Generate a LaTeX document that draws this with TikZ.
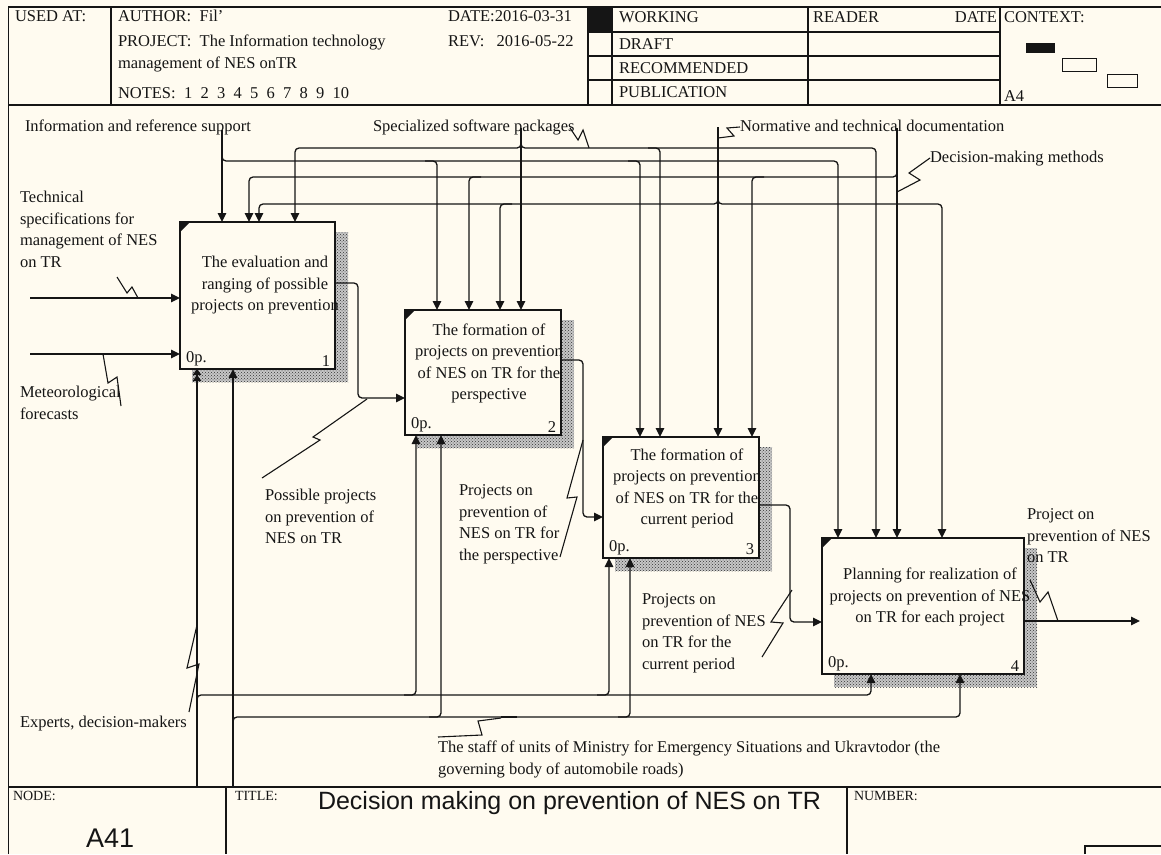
\documentclass[tikz,border=0pt]{standalone}
\usepackage{fontspec}
\setmainfont{Liberation Serif}
\newfontfamily\arialf{Liberation Sans}
\usetikzlibrary{arrows.meta,patterns,calc}
\definecolor{bgc}{HTML}{FFFBF0}
\definecolor{ink}{HTML}{151515}
\pgfdeclarelayer{bglayer}
\pgfdeclarelayer{shlayer}
\pgfsetlayers{bglayer,shlayer,main}
\begin{document}
\begin{tikzpicture}[x=1pt,y=-1pt,
  every node/.style={inner sep=0pt,outer sep=0pt},
  txt/.style={font=\fontsize{16.5}{21.5}\selectfont, text=ink},
  lbl/.style={txt, anchor=north west, align=left},
  btxt/.style={txt, align=center},
  small/.style={font=\fontsize{14}{16}\selectfont, text=ink, anchor=north west},
  frame/.style={line width=1.4pt, draw=ink},
  box/.style={draw=ink, line width=2.8pt, fill=bgc, rectangle},
  conn/.style={line width=1.3pt, draw=ink, rounded corners=4pt},
  arr/.style={conn, -{Triangle[length=9pt,width=8.5pt]}},
  arrdbl/.style={conn, -{Triangle[length=6pt,width=8.5pt]Triangle[length=6pt,width=8.5pt]}},
  squig/.style={line width=1.1pt, draw=ink},
  shadow/.style={pattern=crosshatch dots, pattern color=black!80},
]
\useasboundingbox (0,0) rectangle (1161,854);
\begin{pgfonlayer}{bglayer}
\fill[bgc] (0,0) rectangle (1161,854);
\end{pgfonlayer}

% ---------- frame ----------
\draw[frame] (8.5,854) -- (8.5,7) -- (1161,7);
\draw[frame] (8.5,105) -- (1161,105);
\foreach \xx in {111,588,612,808,1000} \draw[frame] (\xx,7) -- (\xx,105);
\foreach \yy in {32,56,80} \draw[frame] (588,\yy) -- (1000,\yy);
\fill[ink] (588,7) rectangle (612,32);
\fill[ink] (1026,43) rectangle (1055,53);
\draw[ink,line width=1pt] (1062,58) rectangle (1096,71);
\draw[ink,line width=1pt] (1107,74) rectangle (1137,87);
\draw[frame] (8.5,787) -- (1161,787);
\draw[frame] (226,787) -- (226,854);
\draw[frame] (847,787) -- (847,854);
\draw[frame] (1085,854) -- (1085,846) -- (1161,846);

% ---------- header texts ----------
\node[lbl] (hUsed) at (15,6.6) {\strut USED AT:};
\node[lbl] (hAuth) at (118,6.6) {\strut AUTHOR:\ \ Fil'};
\node[lbl] (hProj) at (118,31.6) {\strut PROJECT:\ \ The Information technology\\management of NES onTR};
\node[lbl] (hNotes) at (118,83.6) {\strut NOTES:\ \ 1\ \ 2\ \ 3\ \ 4\ \ 5\ \ 6\ \ 7\ \ 8\ \ 9\ \ 10};
\node[lbl] (hDate) at (448,6.6) {\strut DATE:2016-03-31};
\node[lbl] (hRev) at (448,31.6) {\strut REV:\ \ \ 2016-05-22};
\node[lbl] (hWork) at (619,7.6) {\strut WORKING};
\node[lbl] (hDraft) at (619,34.6) {\strut DRAFT};
\node[lbl] (hRec) at (619,58.6) {\strut RECOMMENDED};
\node[lbl] (hPub) at (619,82.6) {\strut PUBLICATION};
\node[lbl] (hReader) at (813,7.6) {\strut READER};
\node[txt, anchor=north east] (hDate2) at (997,7.6) {\strut DATE};
\node[lbl] (hCtx) at (1004,7.6) {\strut CONTEXT:};
\node[lbl] (hA4) at (1004,86.6) {\strut A4};

% ---------- footer texts ----------
\node[small] (fNode) at (13,789) {\strut NODE:};
\node[small] (fTitle) at (235,789) {\strut TITLE:};
\node[small] (fNum) at (854,789) {\strut NUMBER:};
\node[font=\arialf\fontsize{25}{29}\selectfont, text=ink, anchor=west] (fTitleT) at (318,803) {Decision making on prevention of NES on TR};
\node[font=\arialf\fontsize{27}{31}\selectfont, text=ink, anchor=west] (fA41) at (86,838) {A41};

% ---------- boxes ----------
\node[box, minimum width=155pt, minimum height=147pt] (b1) at (257.5,295.5) {};
\node[box, minimum width=156pt, minimum height=125pt] (b2) at (483,372.5) {};
\node[box, minimum width=156pt, minimum height=121pt] (b3) at (681,497.5) {};
\node[box, minimum width=202pt, minimum height=136pt] (b4) at (923,606) {};
\begin{pgfonlayer}{shlayer}
\foreach \b in {b1,b2,b3,b4}{
  \fill[black!22] ($(\b.south west)+(12,13)$) rectangle ($(\b.north east)+(13,10)$);
  \fill[shadow] ($(\b.south west)+(12,13)$) rectangle ($(\b.north east)+(13,10)$);
}
\end{pgfonlayer}
\foreach \b in {b1,b2,b3,b4}
  \fill[ink] (\b.north west) -- ++(10,0) -- ++(-10,10) -- cycle;

\node[btxt] (t1) at (265,285) {\strut The evaluation and\\ranging of possible\\projects on prevention\strut};
\node[btxt] (t2) at (489,363) {\strut The formation of\\projects on prevention\\of NES on TR for the\\perspective\strut};
\node[btxt] (t3) at (687,488) {\strut The formation of\\projects on prevention\\of NES on TR for the\\current period\strut};
\node[btxt] (t4) at (930,597) {\strut Planning for realization of\\projects on prevention of NES\\on TR for each project\strut};

\foreach \b/\n in {b1/1,b2/2,b3/3,b4/4}{
  \node[txt, anchor=south west] at ($(\b.south west)+(6,-3)$) {0p.};
  \node[txt, anchor=south east] at ($(\b.south east)+(-5,-3)$) {\n};
}

% ---------- labels ----------
\node[lbl] (lInfo) at (25,116.6) {\strut Information and reference support};
\node[lbl] (lSpec) at (373,116.6) {\strut Specialized software packages};
\node[lbl] (lNorm) at (740,116.6) {\strut Normative and technical documentation};
\node[lbl] (lDec) at (930,147.6) {\strut Decision-making methods};
\node[lbl] (lTech) at (20,187.6) {\strut Technical\\specifications for\\management of NES\\on TR};
\node[lbl] (lMet) at (20,382.6) {\strut Meteorological\\forecasts};
\node[lbl] (lPos) at (265,485.6) {\strut Possible projects\\on prevention of\\NES on TR};
\node[lbl] (lPer) at (459,480.6) {\strut Projects on\\prevention of\\NES on TR for\\the perspective};
\node[lbl] (lCur) at (642,589.6) {\strut Projects on\\prevention of NES\\on TR for the\\current period};
\node[lbl] (lOut) at (1027,504.6) {\strut Project on\\prevention of NES\\on TR};
\node[lbl] (lExp) at (20,712.6) {\strut Experts, decision-makers};
\node[lbl] (lStaff) at (438,737.6) {\strut The staff of units of Ministry for Emergency Situations and Ukravtodor (the\\governing body of automobile roads)};

% ---------- controls ----------
% Information and reference support
\draw[arr] (222,130) -- (222,0 |- b1.north);
\draw[arr] (222,150) -- (222,161) -- (838,161) -- (838,0 |- b4.north);
\draw[arr] (425,161) -- (437,161) -- (437,0 |- b2.north);
\draw[arr] (628,161) -- (640,161) -- (640,0 |- b3.north);
% Specialized software packages
\draw[arr] (521,128) -- (521,0 |- b2.north);
\draw[arr] (521,138) -- (521,148) -- (295,148) -- (295,0 |- b1.north);
\draw[arr] (521,138) -- (521,148) -- (876,148) -- (876,0 |- b4.north);
\draw[arr] (648,148) -- (660,148) -- (660,0 |- b3.north);
% Normative and technical documentation
\draw[arr] (718,127) -- (718,0 |- b3.north);
\draw[arr] (718,194) -- (718,204) -- (259,204) -- (259,0 |- b1.north);
\draw[arr] (718,194) -- (718,204) -- (942,204) -- (942,0 |- b4.north);
\draw[arr] (512,204) -- (500,204) -- (500,0 |- b2.north);
% Decision-making methods
\draw[arr] (897,128) -- (897,0 |- b4.north);
\draw[arr] (897,167) -- (897,177) -- (249,177) -- (249,0 |- b1.north);
\draw[arr] (481,177) -- (469,177) -- (469,0 |- b2.north);
\draw[arr] (764,177) -- (752,177) -- (752,0 |- b3.north);

% ---------- inputs ----------
\coordinate (in1) at (30,298);
\coordinate (in2) at (30,354);
\draw[arr] (in1) -- (in1 -| b1.west);
\draw[arr] (in2) -- (in2 -| b1.west);

% ---------- outputs ----------
\draw[arr] (b1.east |- 0,283) -- (358,283) -- (358,398) -- (b2.west |- 0,398);
\draw[arr] (b2.east |- 0,360) -- (583,360) -- (583,517) -- (b3.west |- 0,517);
\draw[arr] (b3.east |- 0,505) -- (790,505) -- (790,622) -- (b4.west |- 0,622);
\coordinate (out4) at (1140,621);
\draw[arr] (b4.east |- out4) -- (out4);

% ---------- mechanisms ----------
\draw[arrdbl] (197,786) -- (197,0 |- b1.south);
\draw[arr] (233,786) -- (233,0 |- b1.south);
\draw[arr] (197,707) -- (197,695) -- (871,695) -- (871,0 |- b4.south);
\draw[arr] (404,695) -- (416,695) -- (416,0 |- b2.south);
\draw[arr] (597,695) -- (609,695) -- (609,0 |- b3.south);
\draw[arr] (233,729) -- (233,717) -- (960,717) -- (960,0 |- b4.south);
\draw[arr] (429,717) -- (441,717) -- (441,0 |- b2.south);
\draw[arr] (618,717) -- (630,717) -- (630,0 |- b3.south);

% ---------- squiggles ----------
\draw[squig] (117,277) -- (127,293) -- (132,287) -- (138,298);
\draw[squig] (103,354) -- (108,383) -- (117,377) -- (121,406);
\draw[squig] (262,478) -- (320,440) -- (313,437) -- (367,399);
\draw[squig] (560,557) -- (577,497) -- (567,498) -- (583,440);
\draw[squig] (762,657) -- (783,623) -- (771,622) -- (792,590);
\draw[squig] (1030,580) -- (1040,602) -- (1048,592) -- (1058,621);
\draw[squig] (197,625) -- (187,668) -- (199,664) -- (189,712);
\draw[squig] (438,737) -- (482,735) -- (478,721) -- (501,718);
\draw[ink, line width=2.6pt] (501,717) -- (517,717);
\draw[squig] (570,128) -- (578,140) -- (583,130) -- (589,148);
\draw[squig] (718,138) -- (734,136) -- (727,128) -- (740,127);
\draw[squig] (897,192) -- (920,180) -- (909,173) -- (930,158);
\end{tikzpicture}
\end{document}
